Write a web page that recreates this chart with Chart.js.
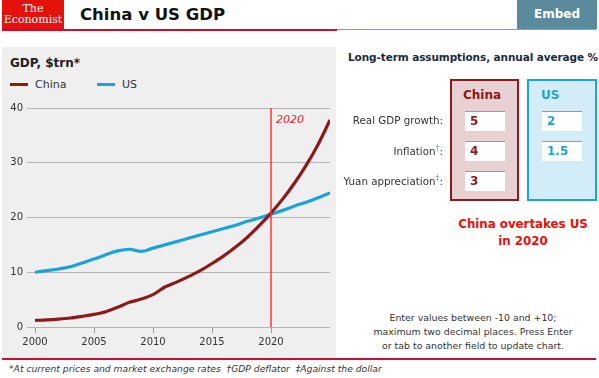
<!DOCTYPE html>
<html>
<head>
<meta charset="utf-8">
<script src="https://cdn.jsdelivr.net/npm/chart.js@4.4.0/dist/chart.umd.min.js"></script>
<style>
body{margin:0;width:599px;height:378px;position:relative;background:#fff;font-family:"DejaVu Sans",Verdana,sans-serif;overflow:hidden;color:#333}
.abs{position:absolute}
#logo{left:2px;top:0;width:62px;height:29px;background:#e3120b;color:#fff;font-family:"DejaVu Serif",serif;text-align:center;font-size:11px;line-height:11px;padding-top:3px;box-sizing:border-box}
#title{left:80px;top:5px;font-size:16.5px;font-weight:bold;color:#111}
#embed{left:517px;top:0;width:80px;height:29px;background:#5b8a9d;color:#fff;font-weight:bold;font-size:12px;line-height:29px;text-align:center}
#hline{left:2px;top:29px;width:335px;height:2px;background:#c8102e}
#hline2{left:337px;top:29px;width:259px;height:1px;background:#e27b7b}
#panel{left:2px;top:47px;width:334px;height:311px;background:#efefef}
#gdp{left:10px;top:56px;font-size:12px;font-weight:bold;color:#222}
.leg{top:78px;font-size:11px;color:#333}
.sw{display:inline-block;width:18px;height:3px;vertical-align:middle;margin-right:7px;position:relative;top:-1px}
#chartbox{left:0;top:95px;width:340px;height:263px}
#assume{left:348px;top:51px;font-size:10.5px;font-weight:bold;color:#1c2b3a;letter-spacing:-0.1px}
.col{top:79px;height:122px;box-sizing:border-box;border:2px solid}
#cc{left:450px;width:69px;background:#e9d0d3;border-color:#8b1a1a}
#uc{left:527px;width:70px;background:#d3edf8;border-color:#1ba3d9}
.head{top:88px;font-size:12px;font-weight:bold}
.inp{width:40px;height:20px;background:#fff;border-top:1px solid #999;box-sizing:border-box;font-size:12px;font-weight:bold;padding-left:5px;line-height:19px}
.lab{width:130px;text-align:right;left:313px;font-size:10.3px;color:#333}
#over{left:440px;top:216px;width:166px;text-align:center;color:#e3120b;font-weight:bold;font-size:11.8px;line-height:17px}
#note{left:348px;top:311px;width:250px;text-align:center;font-size:9.4px;line-height:14px;color:#333;white-space:nowrap}
#fline{left:2px;top:358px;width:594px;height:2px;background:#c8102e}
#foot{left:9px;top:363px;font-size:9.2px;font-style:italic;color:#333;white-space:nowrap}
</style>
</head>
<body>
<div id="logo" class="abs">The<br>Economist</div>
<div id="title" class="abs">China v US GDP</div>
<div id="embed" class="abs">Embed</div>
<div id="hline" class="abs"></div>
<div id="hline2" class="abs"></div>
<div id="panel" class="abs"></div>
<div id="gdp" class="abs">GDP, $trn*</div>
<div class="abs leg" style="left:10px"><span class="sw" style="background:#8b1a1a"></span>China</div>
<div class="abs leg" style="left:97px"><span class="sw" style="background:#1ba3d9"></span>US</div>
<div id="chartbox" class="abs"><canvas id="chart"></canvas></div>

<div id="assume" class="abs">Long-term assumptions, annual average %</div>
<div id="cc" class="abs col"></div>
<div id="uc" class="abs col"></div>
<div class="abs head" style="left:463px;color:#8b1a1a">China</div>
<div class="abs head" style="left:541px;color:#1ba3d9">US</div>
<div class="abs lab" style="top:114px">Real GDP growth:</div>
<div class="abs lab" style="top:144px">Inflation<sup style="font-size:8px;color:#7aa8c8">†</sup>:</div>
<div class="abs lab" style="top:174px">Yuan appreciation<sup style="font-size:8px;color:#7aa8c8">‡</sup>:</div>
<div class="abs inp" style="left:465px;top:111px;color:#8b1a1a">5</div>
<div class="abs inp" style="left:465px;top:141px;color:#8b1a1a">4</div>
<div class="abs inp" style="left:465px;top:171px;color:#8b1a1a">3</div>
<div class="abs inp" style="left:542px;top:111px;color:#1ba3d9">2</div>
<div class="abs inp" style="left:542px;top:141px;color:#1ba3d9">1.5</div>
<div id="over" class="abs">China overtakes US<br>in 2020</div>
<div id="note" class="abs">Enter values between -10 and +10;<br>maximum two decimal places. Press Enter<br>or tab to another field to update chart.</div>
<div id="fline" class="abs"></div>
<div id="foot" class="abs">*At current prices and market exchange rates &nbsp;†GDP deflator &nbsp;‡Against the dollar</div>

<script>
// data, $trn
const years = [2000, 2001, 2002, 2003, 2004, 2005, 2006, 2007, 2008, 2009, 2010, 2011, 2012,
               2013, 2014, 2015, 2016, 2017, 2018, 2019, 2020, 2021, 2022, 2023, 2024, 2025];
const china = [1.2, 1.3, 1.45, 1.65, 1.95, 2.3, 2.8, 3.6, 4.5, 5.1, 5.9, 7.3, 8.2,
               9.2, 10.3, 11.6, 13.0, 14.6, 16.4, 18.5, 20.8, 23.4, 26.3, 29.6, 33.4, 37.8];
const us = [10.0, 10.3, 10.6, 11.0, 11.7, 12.4, 13.2, 13.9, 14.2, 13.8, 14.4, 15.0, 15.6,
            16.2, 16.8, 17.4, 18.0, 18.6, 19.3, 19.9, 20.6, 21.3, 22.1, 22.8, 23.6, 24.5];
const xTicks = [2000, 2005, 2010, 2015, 2020];
const yTicks = [0, 10, 20, 30, 40];
const overtakeYear = 2020;

const pts = arr => arr.map((v, i) => ({x: years[i], y: v}));

// red vertical line at the crossover year
const markLine = {
    id: 'markLine',
    afterDraw(chart) {
        const c = chart.ctx;
        const area = chart.chartArea;
        const x = chart.scales.x.getPixelForValue(overtakeYear);
        c.save();
        c.fillStyle = '#ff2b2b';
        c.fillRect(x - 0.7, area.top, 1.4, area.bottom - area.top);
        c.fillStyle = '#e8262d';
        c.font = 'italic 11px "DejaVu Sans"';
        c.textBaseline = 'middle';
        c.fillText(String(overtakeYear), x + 5, area.top + 12);
        c.restore();
    }
};

let ctx = document.getElementById('chart');

new Chart(ctx, {
    type: 'line',
    data: {
        datasets: [
            {label: 'China', data: pts(china), borderColor: '#8b1a1a', borderWidth: 3.2, pointRadius: 0, cubicInterpolationMode: 'monotone'},
            {label: 'US', data: pts(us), borderColor: '#1ba3d9', borderWidth: 3.2, pointRadius: 0, cubicInterpolationMode: 'monotone'}
        ]
    },
    options: {
        responsive: true,
        maintainAspectRatio: false,
        animation: false,
        layout: {padding: {top: 13, right: 10, left: 0, bottom: 0}},
        plugins: {legend: {display: false}, tooltip: {enabled: false}},
        scales: {
            x: {
                type: 'linear', min: 2000, max: 2025,
                afterBuildTicks: s => { s.ticks = xTicks.map(v => ({value: v})); },
                afterFit: s => { s.height = 31; },
                grid: {drawOnChartArea: false, drawTicks: true, tickLength: 6, color: '#999'},
                border: {display: false},
                ticks: {color: '#333', padding: 3, font: {family: 'DejaVu Sans', size: 10}, callback: v => String(v)}
            },
            y: {
                min: 0, max: 40,
                afterBuildTicks: s => { s.ticks = yTicks.map(v => ({value: v})); },
                afterFit: s => { s.width = 35; },
                grid: {color: '#b4b4b4', tickLength: 8},
                border: {display: false},
                ticks: {color: '#333', padding: 4, font: {family: 'DejaVu Sans', size: 10}}
            }
        }
    },
    plugins: [markLine]
});
</script>
</body>
</html>
